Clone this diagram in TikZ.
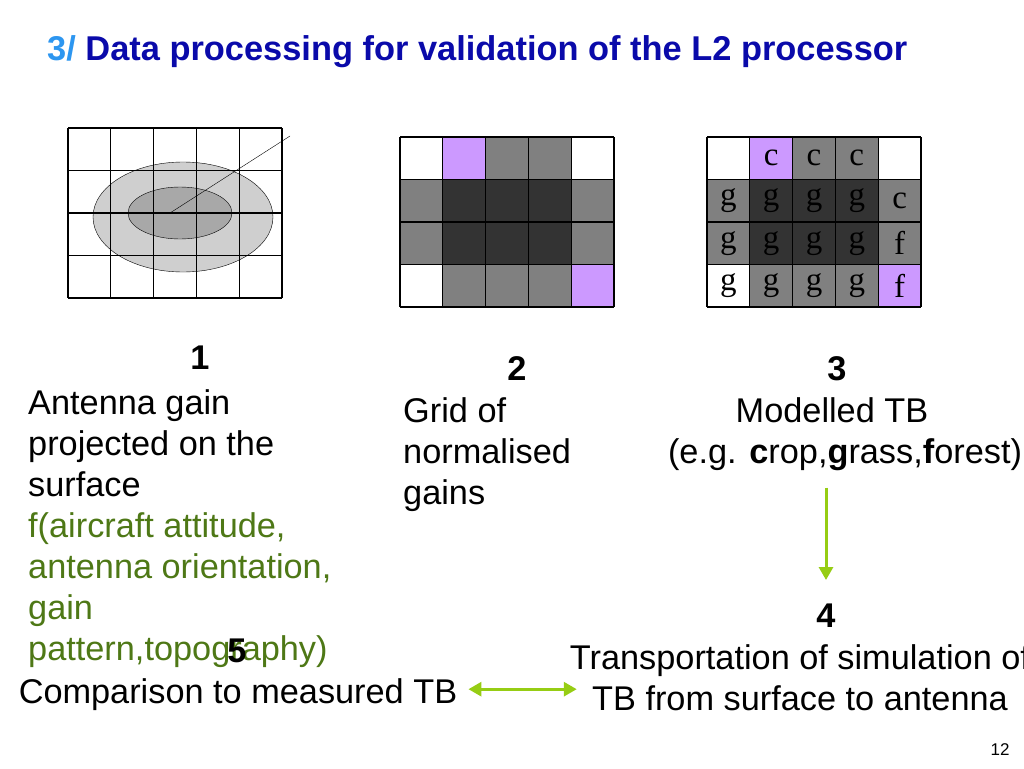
\documentclass[tikz,border=0pt]{standalone}
\usepackage{fontspec}
\setmainfont{Liberation Sans}
\newfontfamily\cellfont{Liberation Serif}
\usetikzlibrary{arrows.meta,positioning}
\definecolor{titleblue}{RGB}{10,10,170}
\definecolor{numblue}{RGB}{45,150,240}
\definecolor{olivetext}{RGB}{78,120,22}
\definecolor{limearrow}{RGB}{150,205,20}
\definecolor{lilac}{RGB}{204,153,255}
\definecolor{midgray}{RGB}{128,128,128}
\definecolor{darkcell}{RGB}{51,51,51}

\begin{document}
\begin{tikzpicture}[x=1pt,y=-1pt,
  bodytext/.style={font=\fontsize{34.3}{41}\selectfont, inner sep=0pt},
  stepnum/.style={font=\fontsize{34.3}{41}\selectfont\bfseries, inner sep=0pt},
  celltext/.style={font=\fontsize{33}{33}\cellfont, inner sep=0pt},
  gridline/.style={line width=1.2pt},
  link/.style={line width=3pt, limearrow, -{Triangle[width=14pt,length=13pt]}}]
\useasboundingbox (0,0) rectangle (1024,768);

% title
\node[anchor=west, font=\fontsize{34.4}{40}\selectfont\bfseries, text=titleblue, inner sep=0pt] (title) at (47,52)
  {\textcolor{numblue}{3/} Data processing for validation of the L2 processor};

% 1: antenna footprint on the surface
\fill[black!19] (183,217) ellipse (90 and 55);
\fill[black!34] (180,213) ellipse (52 and 26);
\begin{scope}[shift={(68pt,-128pt)}, x=42.8pt, y=-42.5pt]
\foreach \i in {0,...,5} \draw[gridline] (\i,0) -- (\i,4);
\foreach \j in {0,...,4} \draw[gridline] (0,\j) -- (5,\j);
\end{scope}
\draw (183,217) ellipse (90 and 55);
\draw (180,213) ellipse (52 and 26);
\draw (170,213) -- (290,136);

% 2: normalised gains
\begin{scope}[shift={(400pt,-137pt)}, x=42.8pt, y=-42.5pt]
\fill[midgray] (0,0) rectangle (5,4);
\fill[darkcell] (1,1) rectangle (4,3);
\fill[white] (0,0) rectangle (1,1);
\fill[white] (4,0) rectangle (5,1);
\fill[white] (0,3) rectangle (1,4);
\fill[lilac] (1,0) rectangle (2,1);
\fill[lilac] (4,3) rectangle (5,4);
\foreach \i in {0,...,5} \draw[gridline] (\i,0) -- (\i,4);
\foreach \j in {0,...,4} \draw[gridline] (0,\j) -- (5,\j);
\end{scope}

% 3: modelled TB per cell
\begin{scope}[shift={(707pt,-137pt)}, x=42.8pt, y=-42.5pt]
\fill[midgray] (0,0) rectangle (5,4);
\fill[darkcell] (1,1) rectangle (4,3);
\fill[white] (0,0) rectangle (1,1);
\fill[white] (4,0) rectangle (5,1);
\fill[white] (0,3) rectangle (1,4);
\fill[lilac] (1,0) rectangle (2,1);
\fill[lilac] (4,3) rectangle (5,4);
\foreach \i in {0,...,5} \draw[gridline] (\i,0) -- (\i,4);
\foreach \j in {0,...,4} \draw[gridline] (0,\j) -- (5,\j);
\foreach \col/\row/\surf in {1/0/c,2/0/c,3/0/c,
    0/1/g,1/1/g,2/1/g,3/1/g,4/1/c,
    0/2/g,1/2/g,2/2/g,3/2/g,4/2/f,
    0/3/g,1/3/g,2/3/g,3/3/g,4/3/f}
  \node[celltext] (cell\col\row) at (\col+0.5,\row+0.5) {\surf};
\end{scope}

% step texts
\node[stepnum] (num1) at (200,358) {1};
\node[bodytext, anchor=north west, align=left] (txt1) at (28,389)
  {Antenna gain\\projected on the\\surface\\
   \textcolor{olivetext}{f(aircraft attitude,}\\
   \textcolor{olivetext}{antenna orientation,}\\
   \textcolor{olivetext}{gain}\\
   \textcolor{olivetext}{pattern,topography)}};

\node[stepnum] (num2) at (517,369) {2};
\node[bodytext, anchor=north west, align=left] (txt2) at (403,397)
  {Grid of\\normalised\\gains};

\node[stepnum] (num3) at (837,369) {3};
\node[bodytext, anchor=north, align=center] (txt3) at (845,397)
  {Modelled TB\hspace*{26pt}\\(e.g. \textbf{c}rop,\textbf{g}rass,\textbf{f}orest)};

\node[stepnum] (num4) at (826,616) {4};
\node[bodytext, anchor=north, align=center] (txt4) at (800,644)
  {Transportation of simulation of\\TB from surface to antenna};

\node[stepnum] (num5) at (237,651) {5};
\node[bodytext, anchor=north] (txt5) at (238,678) {Comparison to measured TB};

\node[font=\fontsize{17}{20}\selectfont, inner sep=0pt] (page) at (1000,750) {12};

% connectors
\draw[link, shorten <=17pt, shorten >=24pt] (txt3.south -| num4.north) -- (num4.north);
\draw[link, {Triangle[width=14pt,length=13pt]}-{Triangle[width=14pt,length=13pt]}, shorten <=11pt, shorten >=-7pt]
  ([yshift=5pt]txt5.east) -- ([yshift=5pt]txt5.east -| txt4.west);
\end{tikzpicture}
\end{document}
